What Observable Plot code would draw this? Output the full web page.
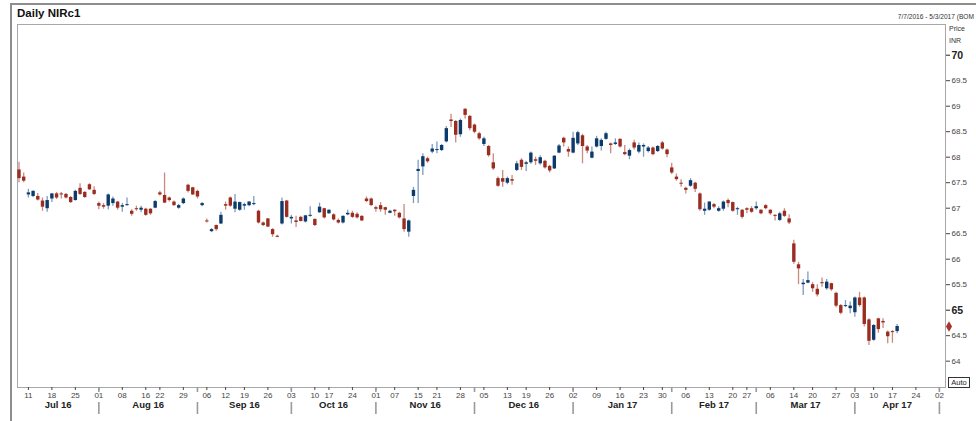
<!DOCTYPE html>
<html>
<head>
<meta charset="utf-8">
<script src="https://cdn.jsdelivr.net/npm/d3@7"></script>
<script src="https://cdn.jsdelivr.net/npm/@observablehq/plot@0.6"></script>
<style>
  html, body { margin: 0; padding: 0; background: #fff; }
  body { width: 976px; height: 421px; overflow: hidden; position: relative; font-family: Arial, "Liberation Sans", sans-serif; }
  .abs { position: absolute; white-space: nowrap; }
  #outer { position: absolute; left: 10px; top: 3px; width: 1200px; height: 600px; border-left: 2px solid #8e8e8e; border-top: 2px solid #8e8e8e; }
  #chart { position: absolute; left: 0; top: 0; }
</style>
</head>
<body>
<div id="outer"></div>
<div id="chart"></div>
<div class="abs" style="left:17px;top:7px;font-weight:bold;font-size:11.5px;color:#111;">Daily NIRc1</div>
<div class="abs" style="right:2px;top:13px;font-size:6.6px;color:#333;">7/7/2016 - 5/3/2017 (BOM</div>
<div class="abs" style="left:949px;top:25px;font-size:7px;color:#333;">Price</div>
<div class="abs" style="left:949px;top:37px;font-size:7px;color:#333;">INR</div>
<div class="abs" style="left:948px;top:377px;width:20px;height:9px;border:1px solid #333;font-size:7.5px;line-height:9px;text-align:center;color:#222;background:#fff;">Auto</div>
<script>
// ---- data ----
const open = [67.75,67.61,67.26,67.23,67.23,67.14,66.99,67.18,67.28,67.28,
67.27,67.21,67.15,67.39,67.31,67.46,67.35,67.09,67.05,67.04,
67.09,67.12,67.02,67.05,66.94,66.99,66.96,66.98,66.98,67.00,
67.30,67.25,67.20,67.12,67.00,67.09,67.45,67.40,67.33,67.05,
66.75,66.54,66.66,66.69,67.07,67.20,66.98,66.96,67.04,67.05,
67.07,66.94,66.71,66.79,66.58,66.45,66.69,67.14,66.79,66.75,
66.82,66.73,66.84,66.78,66.91,66.99,66.89,66.87,66.76,66.71,
66.87,66.90,66.88,66.84,67.18,67.18,67.01,67.05,67.01,66.90,
66.96,66.90,66.79,66.53,67.23,67.72,67.81,67.97,68.10,68.13,
68.13,68.30,68.73,68.70,68.44,68.94,68.80,68.63,68.46,68.25,
68.21,67.89,67.58,67.58,67.49,67.56,67.74,67.94,67.86,67.89,
67.95,67.87,67.92,67.82,67.77,68.08,68.37,68.15,68.08,68.26,
68.42,68.20,67.98,68.20,68.21,68.35,68.26,68.25,68.35,68.09,
68.02,68.28,68.10,68.20,68.11,68.18,68.11,68.28,68.14,67.79,
67.61,67.49,67.39,67.43,67.49,67.28,66.94,66.96,67.07,66.94,
66.98,67.15,67.11,66.97,66.96,66.99,66.99,66.99,66.96,67.05,
66.96,66.86,66.76,66.94,66.79,66.30,65.89,65.50,65.53,65.50,
65.41,65.54,65.42,65.52,65.33,65.09,65.07,65.03,64.95,65.24,
65.24,64.81,64.41,64.83,64.78,64.57,64.58,64.58];
const high = [67.90,67.69,67.37,67.34,67.29,67.20,67.23,67.29,67.31,67.31,
67.29,67.23,67.35,67.48,67.32,67.48,67.42,67.12,67.09,67.28,
67.22,67.13,67.09,67.20,66.97,67.04,67.04,67.00,66.99,67.15,
67.33,67.69,67.22,67.14,67.07,67.20,67.47,67.41,67.35,67.11,
66.79,66.60,66.67,66.92,67.12,67.22,67.27,67.12,67.10,67.13,
67.23,66.96,66.73,66.80,66.60,66.47,67.20,67.15,66.86,66.84,
66.84,66.86,67.03,66.79,67.10,67.00,66.97,66.89,66.79,66.85,
66.96,66.94,66.91,66.85,67.22,67.20,67.04,67.11,67.02,66.96,
66.97,66.92,67.07,66.77,67.41,67.94,68.07,68.00,68.25,68.30,
68.25,68.60,68.84,68.72,68.75,68.95,68.82,68.65,68.49,68.39,
68.23,68.07,67.61,67.74,67.61,67.64,67.92,67.97,67.92,68.10,
68.00,68.03,67.94,67.84,68.03,68.25,68.39,68.20,68.49,68.51,
68.45,68.23,68.20,68.41,68.36,68.49,68.28,68.36,68.36,68.23,
68.16,68.33,68.28,68.26,68.21,68.20,68.23,68.31,68.16,67.88,
67.67,67.56,67.41,67.58,67.51,67.30,67.10,67.13,67.09,67.03,
67.14,67.18,67.12,67.02,66.97,67.01,67.03,67.12,66.97,67.07,
66.97,66.87,66.92,66.99,66.87,66.37,65.94,65.60,65.75,65.54,
65.50,65.63,65.60,65.53,65.35,65.11,65.19,65.16,65.26,65.35,
65.26,64.83,64.72,64.84,64.83,64.59,64.60,64.72];
const low = [67.50,67.50,67.20,67.21,67.14,66.94,66.92,67.11,67.17,67.18,
67.18,67.09,67.14,67.25,67.19,67.35,67.25,66.97,66.98,66.97,
67.04,66.96,66.92,67.04,66.84,66.94,66.91,66.84,66.86,66.99,
67.24,67.09,67.12,67.04,66.98,67.07,67.30,67.25,67.18,67.03,
66.71,66.52,66.55,66.68,66.96,67.02,66.91,66.94,66.96,67.03,
67.05,66.69,66.64,66.62,66.43,66.42,66.67,66.81,66.69,66.62,
66.73,66.71,66.82,66.64,66.90,66.79,66.88,66.75,66.69,66.69,
66.85,66.80,66.79,66.74,67.11,67.04,66.92,66.92,66.86,66.89,
66.84,66.79,66.53,66.43,67.09,67.09,67.64,67.88,68.07,68.07,
68.11,68.28,68.58,68.28,68.39,68.75,68.52,68.46,68.33,68.21,
68.00,67.74,67.41,67.41,67.46,67.45,67.72,67.74,67.72,67.86,
67.84,67.84,67.77,67.69,67.76,68.07,68.20,68.00,68.07,68.23,
67.87,68.07,67.97,68.18,68.12,68.33,68.07,68.23,68.18,68.03,
67.95,68.14,68.07,68.00,68.08,68.03,68.09,68.14,67.99,67.66,
67.53,67.41,67.28,67.41,67.31,66.94,66.86,66.94,66.99,66.92,
66.94,67.01,66.92,66.86,66.79,66.89,66.90,66.96,66.87,66.97,
66.86,66.75,66.74,66.82,66.68,65.90,65.50,65.29,65.52,65.35,
65.26,65.45,65.39,65.37,65.05,64.91,65.05,64.93,64.86,65.06,
64.67,64.31,64.39,64.55,64.64,64.34,64.35,64.54];
const close = [67.58,67.53,67.30,67.33,67.16,67.02,67.15,67.28,67.20,67.26,
67.20,67.11,67.33,67.27,67.21,67.36,67.27,67.04,67.02,67.26,
67.18,67.00,67.05,67.07,66.88,66.97,67.00,66.86,66.89,67.13,
67.26,67.10,67.15,67.05,67.05,67.18,67.33,67.26,67.22,67.09,
66.73,66.58,66.58,66.86,67.04,67.04,67.12,67.11,67.07,67.12,
67.09,66.71,66.66,66.63,66.48,66.43,67.13,66.82,66.82,66.72,
66.74,66.85,66.86,66.66,67.02,66.81,66.96,66.77,66.71,66.84,
66.90,66.82,66.81,66.75,67.13,67.05,66.98,66.97,66.96,66.94,
66.93,66.81,66.58,66.75,67.35,67.76,68.01,67.91,68.16,68.15,
68.23,68.56,68.70,68.43,68.72,68.82,68.56,68.49,68.36,68.36,
68.03,67.77,67.43,67.51,67.58,67.53,67.87,67.80,67.89,68.08,
67.92,67.99,67.79,67.73,68.02,68.22,68.28,68.10,68.37,68.48,
68.21,68.12,68.10,68.36,68.33,68.46,68.23,68.28,68.20,68.05,
68.13,68.18,68.23,68.23,68.18,68.05,68.21,68.16,68.05,67.69,
67.56,67.47,67.35,67.54,67.37,66.97,66.98,67.12,67.02,66.99,
67.12,67.09,66.94,66.99,66.82,66.96,66.92,67.03,66.89,66.99,
66.89,66.84,66.89,66.84,66.71,65.94,65.81,65.53,65.58,65.42,
65.30,65.52,65.55,65.40,65.08,64.94,65.09,65.08,65.24,65.09,
64.72,64.39,64.70,64.62,64.75,64.48,64.56,64.68];

// exchange calendar (non-trading weekdays) and range of the view
const rangeStart = "2016-07-07";
const rangeEnd = "2017-05-03";
const holidays = ["2016-08-15","2016-08-17","2016-09-05","2016-09-13","2016-10-11","2016-10-12",
  "2016-10-31","2016-11-14","2016-12-12","2017-01-26","2017-02-21","2017-02-24","2017-03-13",
  "2017-03-28","2017-04-04","2017-04-14","2017-05-01"];
// axis labels
const weekTicks = ["2016-07-11","2016-07-18","2016-07-25","2016-08-01","2016-08-08","2016-08-16","2016-08-22","2016-08-29",
  "2016-09-06","2016-09-12","2016-09-19","2016-09-26","2016-10-03","2016-10-10","2016-10-17","2016-10-24",
  "2016-11-01","2016-11-07","2016-11-15","2016-11-21","2016-11-28","2016-12-05","2016-12-13","2016-12-19",
  "2016-12-26","2017-01-02","2017-01-09","2017-01-16","2017-01-23","2017-01-30","2017-02-06","2017-02-13",
  "2017-02-20","2017-02-27","2017-03-06","2017-03-14","2017-03-20","2017-03-27","2017-04-03","2017-04-10",
  "2017-04-17","2017-04-24","2017-05-02"];
const monthLabels = ["Jul 16","Aug 16","Sep 16","Oct 16","Nov 16","Dec 16","Jan 17","Feb 17","Mar 17","Apr 17"];
const monthStarts = ["2016-08-01","2016-09-01","2016-10-03","2016-11-01","2016-12-01","2017-01-02",
  "2017-02-01","2017-03-01","2017-04-03","2017-05-02"];
const yTicks = [64, 64.5, 65, 65.5, 66, 66.5, 67, 67.5, 68, 68.5, 69, 69.5, 70];
const yMajor = [65, 70];

// ---- build trading-day index ----
const fmt = d3.utcFormat("%Y-%m-%d");
const hol = new Set(holidays);
const tradingDays = d3.utcDay.range(new Date(rangeStart), d3.utcDay.offset(new Date(rangeEnd), 1))
  .filter(d => d.getUTCDay() !== 0 && d.getUTCDay() !== 6 && !hol.has(fmt(d)))
  .map(fmt);
const pos = new Map(tradingDays.map((d, i) => [d, i]));
const lastIdx = tradingDays.length - 1;

const candles = open.map((o, i) => ({i, o, h: high[i], l: low[i], c: close[i], up: close[i] >= o}));

const weekIdx = weekTicks.map(d => pos.get(d));
const monthIdx = monthStarts.map(d => pos.get(d));
const bounds = [-0.32, ...monthIdx];
const months = monthLabels.map((m, k) => ({m, x: (bounds[k] + bounds[k + 1]) / 2}));

const upBody = "#0b3a6b", downBody = "#9a2c20";
const upWick = "#7f9cbf", downWick = "#c98a80";

const chart = Plot.plot({
  width: 976,
  height: 421,
  marginLeft: 17,
  marginRight: 31,
  marginTop: 24,
  marginBottom: 34,
  style: {fontFamily: "Arial, 'Liberation Sans', sans-serif", background: "transparent", overflow: "visible"},
  x: {type: "linear", domain: [-0.32, lastIdx + 0.3]},
  y: {domain: [63.484, 70.602]},
  marks: [
    Plot.frame({stroke: "#a8a8a8"}),
    Plot.ruleX(candles, {x: "i", y1: "l", y2: "h", stroke: d => d.up ? upWick : downWick, strokeWidth: 1.3}),
    Plot.ruleX(candles, {x: "i", y1: "o", y2: "c", stroke: d => d.up ? upBody : downBody, strokeWidth: 3.4}),
    Plot.axisY(yTicks.filter(t => !yMajor.includes(t)), {anchor: "right", tickSize: 4, tickPadding: 2, fontSize: 8, color: "#444", tickFormat: d => String(d), label: null}),
    Plot.axisY(yMajor, {anchor: "right", tickSize: 4, tickPadding: 2, fontSize: 10.5, fontWeight: "bold", color: "#222", tickFormat: d => String(d), label: null}),
    Plot.axisX(weekIdx, {anchor: "bottom", tickSize: 3, tickPadding: 2, fontSize: 8, color: "#444",
      tickFormat: i => tradingDays[i].slice(8, 10), label: null}),
    Plot.axisX(monthIdx, {anchor: "bottom", tickSize: 27, tickFormat: () => "", stroke: "#9a9a9a",
      strokeWidth: 1.6, strokeDasharray: "5,10,12", label: null}),
    Plot.text(months, {x: "x", text: "m", frameAnchor: "bottom", dy: 20, fontSize: 9.5, fontWeight: "bold", fill: "#222"}),
    Plot.dot([close[close.length - 1]], {y: d => d, frameAnchor: "right", dx: 3.5, symbol: "diamond", r: 3.2, fill: "#a8342a", stroke: "none", clip: false})
  ]
});
document.getElementById("chart").append(chart);
</script>
</body>
</html>
